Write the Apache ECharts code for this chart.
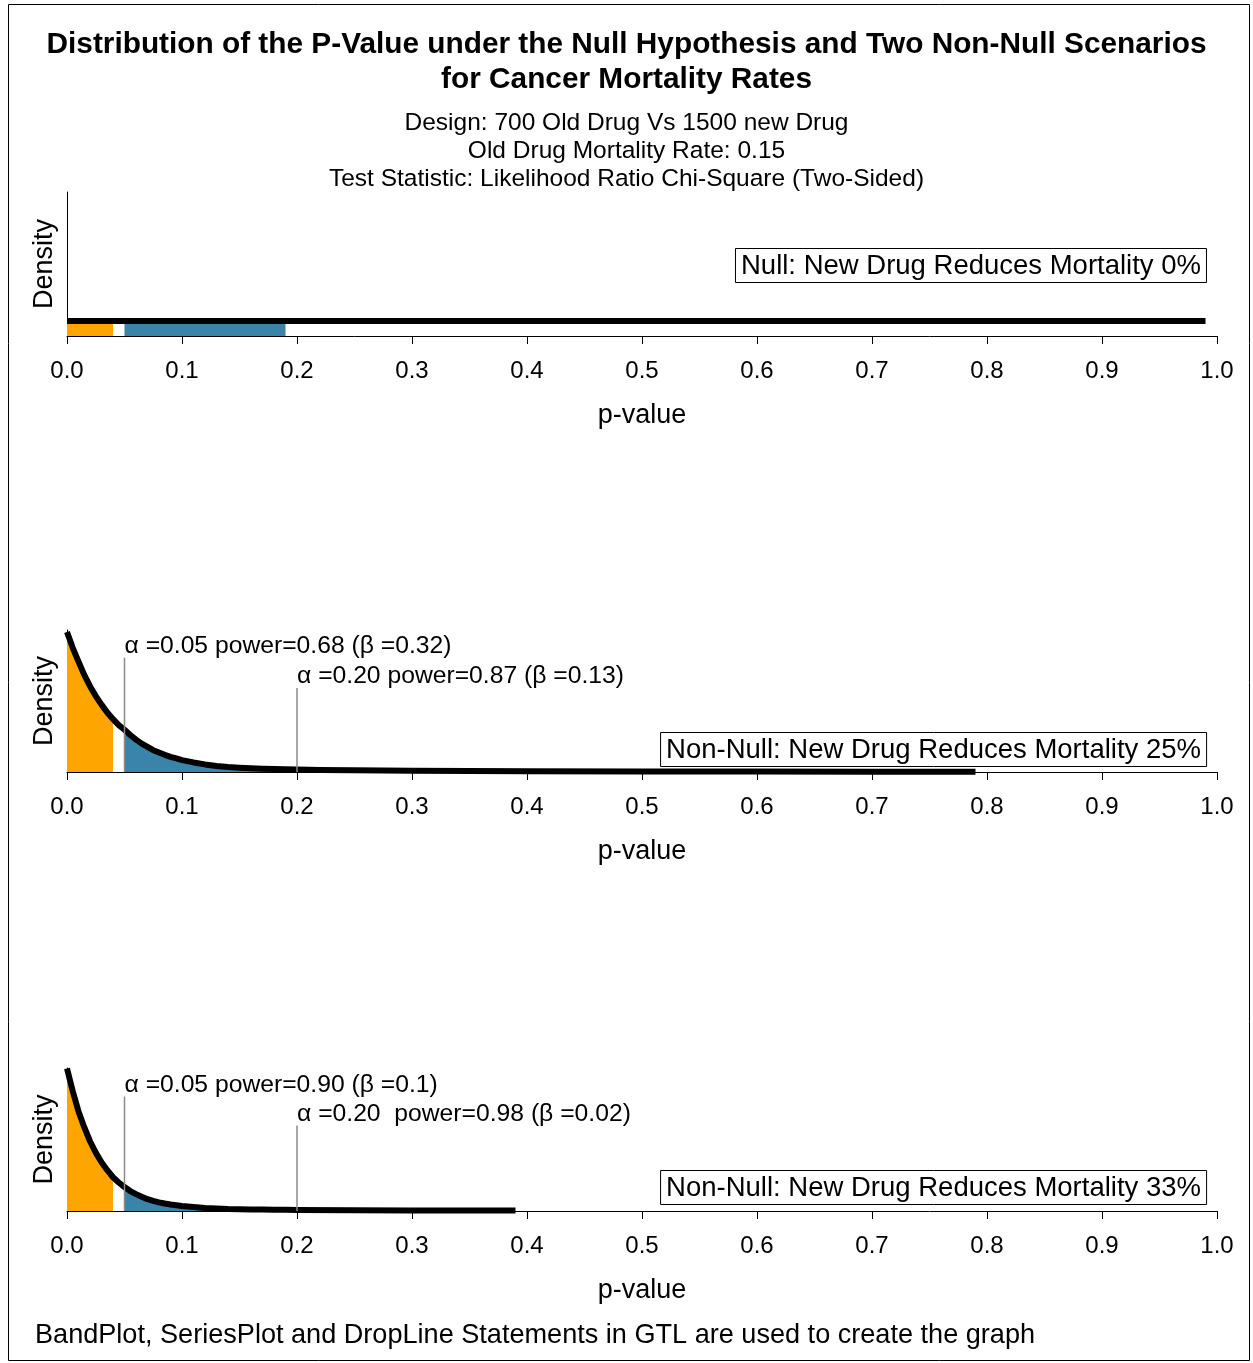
<!DOCTYPE html>
<html><head><meta charset="utf-8">
<script src="https://cdn.jsdelivr.net/npm/echarts@6/dist/echarts.min.js"></script>
<style>html,body{margin:0;padding:0;background:#fff}#c{width:1253px;height:1363px}</style>
</head><body><div id="c"></div>
<script>
// ---- data ----
const pNull = [0, 0.04, 0.05, 0.19, 0.99];
const dNull = [1, 1, 1, 1, 1];
const p25 = [0, 0.005, 0.01, 0.015, 0.02, 0.025, 0.03, 0.035, 0.04, 0.045, 0.05, 0.055, 0.06, 0.065, 0.07, 0.075, 0.08, 0.085, 0.09, 0.095, 0.1,
  0.11, 0.12, 0.13, 0.14, 0.15, 0.16, 0.17, 0.18, 0.19, 0.2, 0.22, 0.25, 0.3, 0.35, 0.4, 0.5, 0.6, 0.7, 0.79];
const d25 = [21.2, 18.8, 16.7, 14.7, 13.0, 11.5, 10.2, 9.0, 8.0, 7.1, 6.4, 5.6, 4.9, 4.3, 3.8, 3.3, 2.95, 2.6, 2.3, 2.05, 1.8,
  1.45, 1.15, 0.92, 0.76, 0.65, 0.57, 0.51, 0.46, 0.42, 0.38, 0.32, 0.26, 0.18, 0.15, 0.12, 0.09, 0.07, 0.05, 0.04];
const p33 = [0, 0.005, 0.01, 0.015, 0.02, 0.025, 0.03, 0.035, 0.04, 0.045, 0.05, 0.055, 0.06, 0.065, 0.07, 0.075, 0.08, 0.085, 0.09, 0.095, 0.1,
  0.11, 0.12, 0.13, 0.14, 0.15, 0.16, 0.17, 0.18, 0.19, 0.2, 0.25, 0.3, 0.35, 0.39];
const d33 = [32.5, 27.3, 22.7, 19.1, 15.9, 13.3, 11.1, 9.3, 7.7, 6.5, 5.45, 4.55, 3.85, 3.25, 2.7, 2.3, 1.98, 1.7, 1.48, 1.3, 1.14,
  0.89, 0.68, 0.55, 0.45, 0.41, 0.36, 0.33, 0.3, 0.27, 0.25, 0.18, 0.14, 0.11, 0.1];
const alphaX = [0.05, 0.2];
const rejectBand = [0, 0.04];
const powerBand = [0.05, 0.19];
const dropTop25 = [17.3, 12.7];
const dropTop33 = [26.1, 19.5];
const labels25 = ['α =0.05 power=0.68 (β =0.32)', 'α =0.20 power=0.87 (β =0.13)'];
const labels33 = ['α =0.05 power=0.90 (β =0.1)', 'α =0.20  power=0.98 (β =0.02)'];
const panelNames = ['Null: New Drug Reduces Mortality 0%', 'Non-Null: New Drug Reduces Mortality 25%', 'Non-Null: New Drug Reduces Mortality 33%'];
const xTickLabels = ['0.0','0.1','0.2','0.3','0.4','0.5','0.6','0.7','0.8','0.9','1.0'];
const yMax = [9.6, 21.5, 32.6];

// ---- build ----
const FONT = "'Liberation Sans', Arial, sans-serif";
const ORANGE = '#FFA500', BLUE = '#3A84AA';
const panels = [
  {p: pNull, d: dNull, drops: null},
  {p: p25, d: d25, drops: {top: dropTop25, labels: labels25}},
  {p: p33, d: d33, drops: {top: dropTop33, labels: labels33}}
];
const grids = [
  {left: 67, right: 36, top: 192, height: 144},
  {left: 67, right: 36, top: 630, height: 142},
  {left: 67, right: 36, top: 1068, height: 143}
];
const xAxes = [], yAxes = [], series = [];
panels.forEach((pn, i) => {
  xAxes.push({
    type: 'value', gridIndex: i, min: 0, max: 1, interval: 0.1,
    name: 'p-value', nameLocation: 'middle', nameGap: 66,
    nameTextStyle: {fontSize: 27, color: '#000', fontFamily: FONT},
    axisLine: {show: true, onZero: false, lineStyle: {color: '#000', width: 1}},
    axisTick: {show: true, length: 8, lineStyle: {color: '#000'}},
    axisLabel: {fontSize: 24, color: '#000', fontFamily: FONT, margin: 23,
      formatter: v => xTickLabels[Math.round(v * 10)]},
    splitLine: {show: false}
  });
  yAxes.push({
    type: 'value', gridIndex: i, min: 0, max: yMax[i],
    name: 'Density', nameLocation: 'middle', nameGap: 9,
    nameTextStyle: {fontSize: 27, color: '#000', fontFamily: FONT},
    axisLine: {show: true, lineStyle: {color: '#000', width: 1}},
    axisTick: {show: false}, axisLabel: {show: false}, splitLine: {show: false}
  });
  const pts = pn.p.map((x, k) => [x, pn.d[k]]);
  const rej = pts.filter(q => q[0] >= rejectBand[0] && q[0] <= rejectBand[1]);
  const pow = pts.filter(q => q[0] >= powerBand[0] && q[0] <= powerBand[1]);
  [[rej, ORANGE], [pow, BLUE]].forEach(([dat, col]) => {
    series.push({
      type: 'line', xAxisIndex: i, yAxisIndex: i, data: dat, showSymbol: false, symbol: 'none',
      lineStyle: {width: 0}, areaStyle: {color: col, opacity: 1}, z: 2, silent: true
    });
  });
  series.push({
    type: 'line', xAxisIndex: i, yAxisIndex: i, data: pts, showSymbol: false, symbol: 'none',
    lineStyle: {color: '#000', width: 6, join: 'round', cap: 'butt'}, clip: false, z: 3, silent: true
  });
  if (pn.drops) {
    const dd = alphaX.map((x, k) => [x, pn.drops.top[k]]);
    const labs = pn.drops.labels;
    series.push({
      type: 'custom', xAxisIndex: i, yAxisIndex: i, data: dd, clip: false, z: 4, silent: true,
      renderItem: (params, api) => {
        const x = api.value(0), t = api.value(1);
        const a = api.coord([x, 0]), b = api.coord([x, t]);
        return {type: 'group', children: [
          {type: 'line', shape: {x1: a[0], y1: a[1], x2: b[0], y2: b[1]},
            style: {stroke: '#8a8a8a', lineWidth: 1.5}},
          {type: 'text', x: b[0], y: b[1] + 1,
            style: {text: labs[params.dataIndex], fill: '#000', font: '24.7px ' + FONT,
              align: 'left', verticalAlign: 'bottom'}}
        ]};
      }
    });
  }
});
const titles = [
  {text: 'Distribution of the P-Value under the Null Hypothesis and Two Non-Null Scenarios\nfor Cancer Mortality Rates',
    left: 'center', top: 22,
    textStyle: {fontSize: 29.8, fontWeight: 'bold', color: '#000', fontFamily: FONT, lineHeight: 35, align: 'center'}},
  {text: 'Design: 700 Old Drug Vs 1500 new Drug\nOld Drug Mortality Rate: 0.15\nTest Statistic: Likelihood Ratio Chi-Square (Two-Sided)',
    left: 'center', top: 104,
    textStyle: {fontSize: 24.5, fontWeight: 'normal', color: '#000', fontFamily: FONT, lineHeight: 28, align: 'center'}},
  {text: 'BandPlot, SeriesPlot and DropLine Statements in GTL are used to create the graph',
    left: 30, top: 1317,
    textStyle: {fontSize: 27.1, fontWeight: 'normal', color: '#000', fontFamily: FONT}}
];
const boxTops = [248, 732, 1170];
panelNames.forEach((t, i) => titles.push({
  text: t, right: 46, top: boxTops[i], padding: [4, 6, 3, 6],
  borderColor: '#000', borderWidth: 1,
  textStyle: {fontSize: 27.5, fontWeight: 'normal', color: '#000', fontFamily: FONT}
}));

const chart = echarts.init(document.getElementById('c'), null, {renderer: 'canvas'});
chart.setOption({
  backgroundColor: '#fff',
  animation: false,
  title: titles,
  grid: grids, xAxis: xAxes, yAxis: yAxes, series: series,
  graphic: [{type: 'rect', shape: {x: 8.5, y: 4.5, width: 1241, height: 1356},
    style: {fill: 'none', stroke: '#000', lineWidth: 1}, silent: true}]
});
</script></body></html>
